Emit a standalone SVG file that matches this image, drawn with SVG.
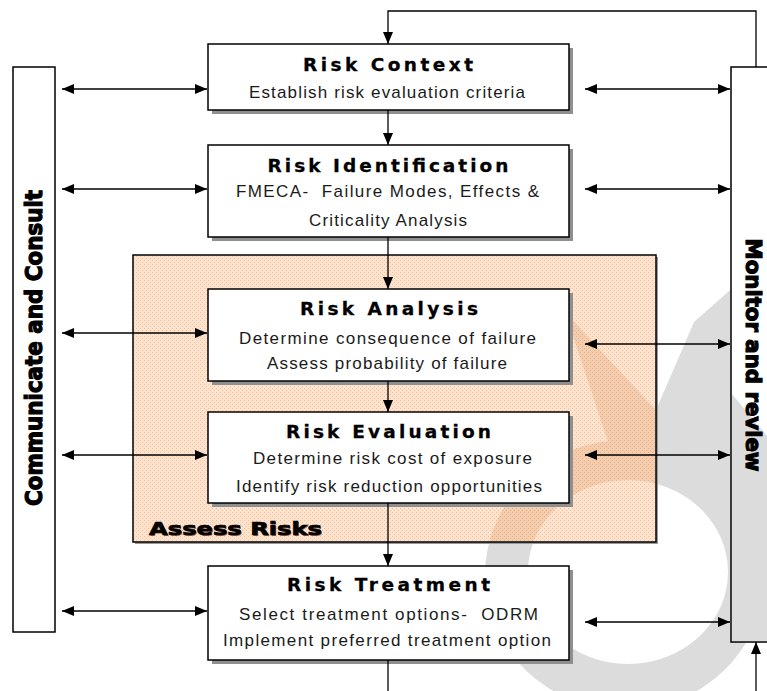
<svg xmlns="http://www.w3.org/2000/svg" width="767" height="691" viewBox="0 0 767 691">
<style>
.box{fill:#fff;stroke:#000;stroke-width:1.5}
.shadow{fill:#8f8f8f}
.title{font-family:"DejaVu Sans",sans-serif;font-weight:bold;font-size:18.5px;fill:#000;stroke:#000;stroke-width:0.3;text-anchor:middle}
.sub{font-family:"Liberation Sans",Arial,sans-serif;font-size:17px;fill:#1a1a1a;text-anchor:middle}
.side{font-family:"DejaVu Sans",sans-serif;font-weight:bold;fill:#000;stroke:#000;stroke-width:1.2;text-anchor:middle}
.conn{fill:none;stroke:#000;stroke-width:1.3}
.wm{fill:#dcdcdc}
</style>
<defs>
<marker id="ah" viewBox="0 0 12 10" refX="12" refY="5" markerWidth="12" markerHeight="10" markerUnits="userSpaceOnUse" orient="auto-start-reverse">
<path d="M0,0 L12,5 L0,10 z" fill="#000"/>
</marker>
<pattern id="peach" width="4" height="4" patternUnits="userSpaceOnUse">
<rect width="4" height="4" fill="#fde3cd"/>
<rect x="0" y="0" width="1" height="1" fill="#f3c29e"/>
<rect x="2" y="2" width="1" height="1" fill="#f3c29e"/>
</pattern>
<pattern id="peachDark" width="4" height="4" patternUnits="userSpaceOnUse">
<rect width="4" height="4" fill="#f4cdae"/>
<rect x="0" y="0" width="1" height="1" fill="#e6b089"/>
<rect x="2" y="2" width="1" height="1" fill="#e6b089"/>
</pattern>
<mask id="hole" maskUnits="userSpaceOnUse" x="0" y="0" width="767" height="691">
<rect x="0" y="0" width="767" height="691" fill="#fff"/>
<ellipse cx="628" cy="572" rx="100" ry="92" fill="#000"/>
</mask>
<clipPath id="assessClip"><rect x="134" y="256" width="521" height="285"/></clipPath>
<g id="wmShape" mask="url(#hole)">
<polygon points="565,312 656,410 694,322 737,284 790,284 790,600 700,600 610,600 608,442"/>
<ellipse cx="625" cy="575" rx="140" ry="135"/>
</g>
</defs>

<!-- watermark -->
<g id="watermark">
<use href="#wmShape" class="wm"/>
</g>

<!-- Assess Risks group -->
<g id="assess-risks">
<rect x="135" y="257" width="523" height="287" fill="#9a9a9a"/>
<rect x="133" y="255" width="523" height="287" fill="url(#peach)" stroke="#000" stroke-width="1.5"/>
<g clip-path="url(#assessClip)"><use href="#wmShape" fill="url(#peachDark)"/></g>
<text x="150" y="536" font-family="DejaVu Sans,sans-serif" font-weight="bold" font-size="18" fill="#a0603a" textLength="173" lengthAdjust="spacingAndGlyphs">Assess Risks</text>
<text x="149" y="535" font-family="DejaVu Sans,sans-serif" font-weight="bold" font-size="18" fill="#000" stroke="#000" stroke-width="0.7" textLength="173" lengthAdjust="spacingAndGlyphs">Assess Risks</text>
</g>

<!-- side bars -->
<g id="communicate">
<rect x="13" y="67" width="42" height="565" fill="#fff" stroke="#000" stroke-width="1.5"/>
<text class="side" font-size="23" transform="translate(42,348) rotate(-90)" textLength="316" lengthAdjust="spacingAndGlyphs">Communicate and Consult</text>
</g>
<g id="monitor">
<rect x="731" y="67" width="50" height="575" fill="#fff" stroke="#000" stroke-width="1.5"/>
<polygon points="732,394 767,436 767,641 732,641" class="wm"/>
<text class="side" font-size="22" transform="translate(746,355) rotate(90)" textLength="233" lengthAdjust="spacingAndGlyphs">Monitor and review</text>
</g>

<!-- nodes -->
<g id="risk-context">
<rect class="shadow" x="212" y="48" width="361" height="66"/>
<rect class="box" x="208" y="44" width="361" height="66"/>
<text class="title" x="388" y="71" textLength="170" lengthAdjust="spacing">Risk Context</text>
<text class="sub" x="387" y="98" textLength="276" lengthAdjust="spacing">Establish risk evaluation criteria</text>
</g>
<g id="risk-identification">
<rect class="shadow" x="212" y="149" width="361" height="92"/>
<rect class="box" x="208" y="145" width="361" height="92"/>
<text class="title" x="388" y="172" textLength="241" lengthAdjust="spacing">Risk Identification</text>
<text class="sub" x="387.5" y="197" textLength="303" lengthAdjust="spacing" xml:space="preserve">FMECA-  Failure Modes, Effects &amp;</text>
<text class="sub" x="388" y="226" textLength="158" lengthAdjust="spacing">Criticality Analysis</text>
</g>
<g id="risk-analysis">
<rect class="shadow" x="212" y="293" width="361" height="92"/>
<rect class="box" x="208" y="289" width="361" height="92"/>
<text class="title" x="389" y="315" textLength="178" lengthAdjust="spacing">Risk Analysis</text>
<text class="sub" x="387.5" y="344" textLength="297" lengthAdjust="spacing">Determine consequence of failure</text>
<text class="sub" x="387" y="369" textLength="240" lengthAdjust="spacing">Assess probability of failure</text>
</g>
<g id="risk-evaluation">
<rect class="shadow" x="212" y="416" width="361" height="91"/>
<rect class="box" x="208" y="412" width="361" height="91"/>
<text class="title" x="388.5" y="438" textLength="205" lengthAdjust="spacing">Risk Evaluation</text>
<text class="sub" x="392.5" y="464" textLength="279" lengthAdjust="spacing">Determine risk cost of exposure</text>
<text class="sub" x="389" y="492" textLength="306" lengthAdjust="spacing">Identify risk reduction opportunities</text>
</g>
<g id="risk-treatment">
<rect class="shadow" x="212" y="570" width="361" height="94"/>
<rect class="box" x="208" y="566" width="361" height="94"/>
<text class="title" x="388.5" y="591" textLength="203" lengthAdjust="spacing">Risk Treatment</text>
<text class="sub" x="388.5" y="620" textLength="299" lengthAdjust="spacing" xml:space="preserve">Select treatment options-  ODRM</text>
<text class="sub" x="387" y="646" textLength="328" lengthAdjust="spacing">Implement preferred treatment option</text>
</g>

<!-- connectors -->
<g id="connectors">
<path class="conn" d="M756,67 V11 H388 V44" marker-end="url(#ah)"/>
<line class="conn" x1="388" y1="110" x2="388" y2="145" marker-end="url(#ah)"/>
<line class="conn" x1="388" y1="237" x2="388" y2="289" marker-end="url(#ah)"/>
<line class="conn" x1="388" y1="381" x2="388" y2="412" marker-end="url(#ah)"/>
<line class="conn" x1="388" y1="503" x2="388" y2="566" marker-end="url(#ah)"/>
<line class="conn" x1="388" y1="660" x2="388" y2="691"/>
<line class="conn" x1="756" y1="691" x2="756" y2="642" marker-end="url(#ah)"/>

<line class="conn" x1="62" y1="89" x2="207" y2="89" marker-start="url(#ah)" marker-end="url(#ah)"/>
<line class="conn" x1="62" y1="189" x2="207" y2="189" marker-start="url(#ah)" marker-end="url(#ah)"/>
<line class="conn" x1="62" y1="333" x2="207" y2="333" marker-start="url(#ah)" marker-end="url(#ah)"/>
<line class="conn" x1="62" y1="455" x2="207" y2="455" marker-start="url(#ah)" marker-end="url(#ah)"/>
<line class="conn" x1="62" y1="611" x2="207" y2="611" marker-start="url(#ah)" marker-end="url(#ah)"/>

<line class="conn" x1="585" y1="89" x2="730" y2="89" marker-start="url(#ah)" marker-end="url(#ah)"/>
<line class="conn" x1="585" y1="189" x2="730" y2="189" marker-start="url(#ah)" marker-end="url(#ah)"/>
<line class="conn" x1="585" y1="344" x2="730" y2="344" marker-start="url(#ah)" marker-end="url(#ah)"/>
<line class="conn" x1="585" y1="455" x2="730" y2="455" marker-start="url(#ah)" marker-end="url(#ah)"/>
<line class="conn" x1="585" y1="622" x2="730" y2="622" marker-start="url(#ah)" marker-end="url(#ah)"/>
</g>
</svg>
